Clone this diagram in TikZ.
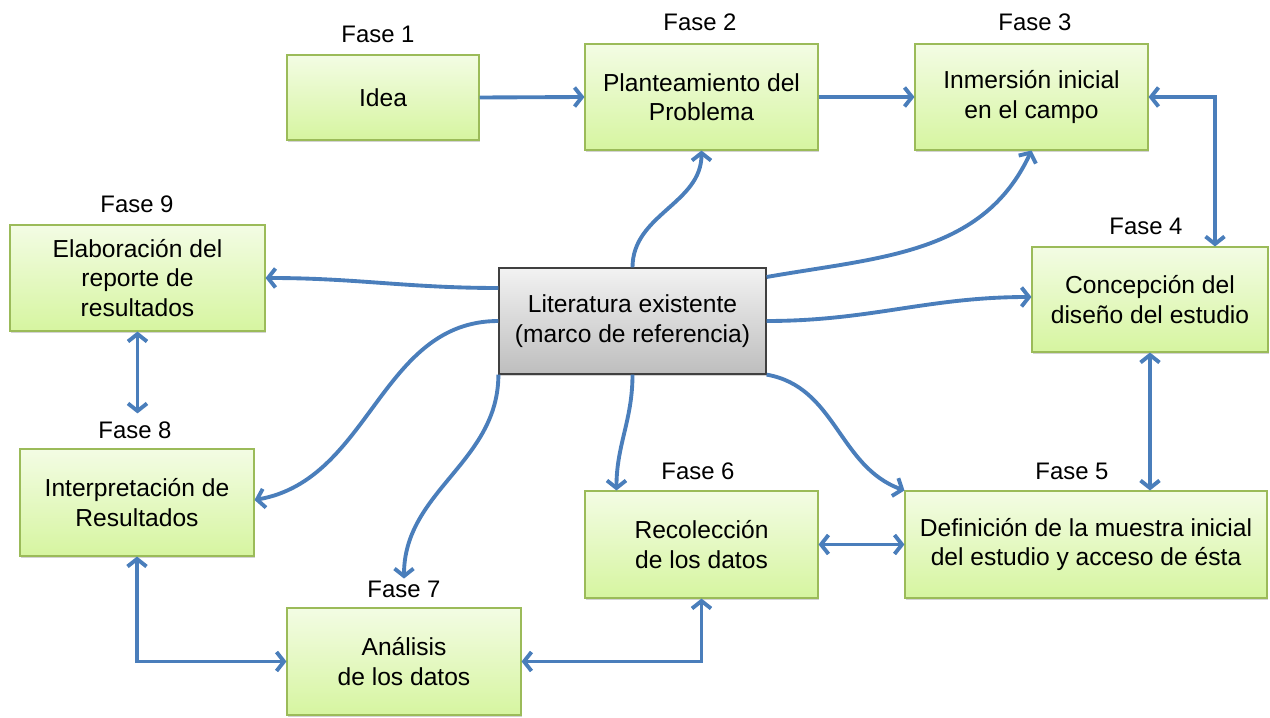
\documentclass[tikz,border=0pt]{standalone}
\usepackage{fontspec}
\setmainfont{Liberation Sans}
\usetikzlibrary{arrows.meta,shadows}
\definecolor{linkblue}{RGB}{74,126,187}
\definecolor{fasetop}{RGB}{243,252,228}
\definecolor{fasebot}{RGB}{214,245,160}
\definecolor{faseline}{RGB}{155,187,89}
\definecolor{littop}{RGB}{242,242,242}
\definecolor{litbot}{RGB}{190,190,190}
\begin{document}
\begin{tikzpicture}[font=\fontsize{14}{16.8}\selectfont]
	\tikzstyle{fase}=[rectangle,draw=faseline,line width=0.6pt,top color=fasetop,bottom color=fasebot,align=center,inner sep=1pt,drop shadow={shadow xshift=0.7pt,shadow yshift=-1.2pt,opacity=0.35}]
	\tikzstyle{lit}=[rectangle,draw=black!75,line width=0.7pt,top color=littop,bottom color=litbot,align=center,inner sep=1pt,drop shadow={shadow xshift=0.7pt,shadow yshift=-1.2pt,opacity=0.35}]
	\tikzstyle{tag}=[inner sep=1pt,font=\fontsize{13.6}{16}\selectfont]
	\tikzstyle{edge}=[draw,linkblue,line width=2.2pt,-{Straight Barb[length=1.5mm,width=3.8mm]}]
	\tikzstyle{dedge}=[draw,linkblue,line width=2.2pt,{Straight Barb[length=1.5mm,width=3.8mm]}-{Straight Barb[length=1.5mm,width=3.8mm]}]
	\useasboundingbox (0,0) rectangle (25.4,14.34);
	\begin{scope}
		% boxes
		\node [fase,minimum width=3.84cm,minimum height=1.70cm] (f1) at (7.66,12.39) {Idea};
		\node [fase,minimum width=4.66cm,minimum height=2.12cm] (f2) at (14.03,12.40) {Planteamiento del\\Problema};
		\node [fase,minimum width=4.66cm,minimum height=2.12cm] (f3) at (20.63,12.40) {Inmersión inicial\\en el campo};
		\node [fase,minimum width=4.72cm,minimum height=2.10cm] (f4) at (23.00,8.35) {Concepción del\\diseño del estudio};
		\node [fase,minimum width=7.24cm,minimum height=2.14cm] (f5) at (21.72,3.45) {Definición de la muestra inicial\\del estudio y acceso de ésta};
		\node [fase,minimum width=4.66cm,minimum height=2.14cm] (f6) at (14.03,3.45) {Recolección\\de los datos};
		\node [fase,minimum width=4.68cm,minimum height=2.14cm] (f7) at (8.08,1.11) {Análisis\\de los datos};
		\node [fase,minimum width=4.68cm,minimum height=2.14cm] (f8) at (2.74,4.29) {Interpretación de\\Resultados};
		\node [fase,minimum width=5.10cm,minimum height=2.12cm] (f9) at (2.75,8.78) {Elaboración del\\reporte de\\resultados};
		\node [lit,minimum width=5.34cm,minimum height=2.12cm] (lit) at (12.65,7.92) {Literatura existente\\(marco de referencia)};
		% phase labels
		\node [tag] (t1) at (7.56,13.66) {Fase 1};
		\node [tag] (t2) at (14.00,13.90) {Fase 2};
		\node [tag] (t3) at (20.70,13.90) {Fase 3};
		\node [tag] (t4) at (22.92,9.82) {Fase 4};
		\node [tag] (t5) at (21.44,4.92) {Fase 5};
		\node [tag] (t6) at (13.96,4.92) {Fase 6};
		\node [tag] (t7) at (8.08,2.56) {Fase 7};
		\node [tag] (t8) at (2.70,5.74) {Fase 8};
		\node [tag] (t9) at (2.74,10.26) {Fase 9};
		% sequence
		\path (f1.east) edge [edge] (f2.west);
		\path (f2.east) edge [edge] (f3.west);
		\draw[dedge] (f3.east) -| ([xshift=1.3cm]f4.north);
		\draw[dedge] (f4.south) -- (f4.south |- f5.north);
		\draw[dedge] (f6.east) -- (f5.west);
		\draw[dedge] (f7.east) -| (f6.south);
		\draw[dedge] (f8.south) |- (f7.west);
		\draw[dedge] (f9.south) -- ([yshift=0.12cm]f9.south |- t8.north);
		% from the literature
		\path (lit.north) edge [edge,out=90,in=-90] (f2.south);
		\path ([yshift=0.88cm]lit.east) edge [edge,out=10,in=-115] (f3.south);
		\path (lit.east) edge [edge,out=0,in=180] ([yshift=0.05cm]f4.west);
		\path (lit.south east) edge [edge,out=-10,in=160] (f5.north west);
		\path (lit.south) edge [edge,out=-90,in=90] ([xshift=0.64cm]f6.north west);
		\path (lit.south west) edge [edge,out=-90,in=90] (t7);
		\path (lit.west) edge [edge,out=180,in=10] ([yshift=0.05cm]f8.east);
		\path ([yshift=0.66cm]lit.west) edge [edge,out=180,in=0] (f9.east);
	\end{scope}
\end{tikzpicture}
\end{document}
